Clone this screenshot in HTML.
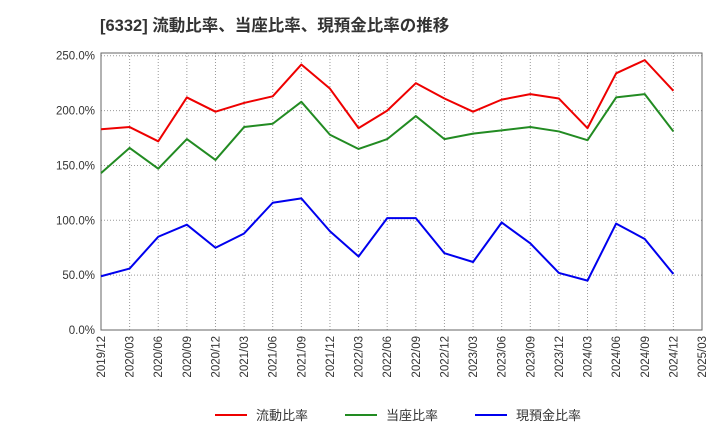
<!DOCTYPE html>
<html><head><meta charset="utf-8"><style>
body{margin:0;background:#fff;}
svg{font-family:"Liberation Sans","Noto Sans CJK JP",sans-serif;}
</style></head><body>
<svg id="chart" width="720" height="440" viewBox="0 0 720 440">
<text x="100" y="31" font-size="16.5" font-weight="bold" fill="#333">[6332]  流動比率、当座比率、現預金比率の推移</text>
<g id="grid"></g><g id="axes"></g><g id="series"></g>
<g>
<line x1="215" y1="415" x2="247" y2="415" stroke="#e00" stroke-width="2"/>
<text x="256" y="420" font-size="13" fill="#333">流動比率</text>
<line x1="345" y1="415" x2="377" y2="415" stroke="#228b22" stroke-width="2"/>
<text x="386" y="420" font-size="13" fill="#333">当座比率</text>
<line x1="475" y1="415" x2="507" y2="415" stroke="#00e" stroke-width="2"/>
<text x="516" y="420" font-size="13" fill="#333">現預金比率</text>
</g>
</svg>
<script>
const categories=["2019/12","2020/03","2020/06","2020/09","2020/12","2021/03","2021/06","2021/09","2021/12","2022/03","2022/06","2022/09","2022/12","2023/03","2023/06","2023/09","2023/12","2024/03","2024/06","2024/09","2024/12","2025/03"];
const currentRatio=[183,185,172,212,199,207,213,242,220,184,200,225,211,199,210,215,211,184,234,246,218];
const quickRatio=[143,166,147,174,155,185,188,208,178,165,174,195,174,179,182,185,181,173,212,215,181];
const cashRatio=[49,56,85,96,75,88,116,120,90,67,102,102,70,62,98,79,52,45,97,83,51];
const yTicks=[0,50,100,150,200,250];
const NS="http://www.w3.org/2000/svg";
const L=101,R=702,T=53,B=330,yMax=252.5;
const xs=i=>L+i*(R-L)/(categories.length-1);
const ys=v=>B-v*(B-T)/yMax;
const grid=document.getElementById('grid'),axes=document.getElementById('axes'),ser=document.getElementById('series');
function mk(tag,attrs,parent){const e=document.createElementNS(NS,tag);for(const k in attrs)e.setAttribute(k,attrs[k]);parent.appendChild(e);return e;}
categories.forEach((c,i)=>{
 const g=mk('line',{x1:xs(i),x2:xs(i),y1:T,y2:B,stroke:'#999','stroke-dasharray':'1,2','stroke-width':1},grid);
 
 
 const t=mk('text',{transform:`translate(${xs(i)+4},${B+6}) rotate(-90)`,'text-anchor':'end','font-size':11.5,fill:'#333'},axes);
 t.textContent=c;
 
 
});
yTicks.forEach(v=>{
 const g=mk('line',{x1:L,x2:R,y1:ys(v),y2:ys(v),stroke:'#999','stroke-dasharray':'1,2','stroke-width':1},grid);
 
 
 const t=mk('text',{x:L-6,y:ys(v)+4,'text-anchor':'end','font-size':11.5,fill:'#333'},axes);
 t.textContent=v.toFixed(1)+'%';
 
 
});
const frame=mk('rect',{x:L,y:T,width:R-L,height:B-T,fill:'none',stroke:'#666','stroke-width':1},axes);


[[currentRatio,'#e00','current-ratio-line'],[quickRatio,'#228b22','quick-ratio-line'],[cashRatio,'#00e','cash-ratio-line']].forEach(([d,c,n])=>{
 const p=mk('polyline',{points:d.map((v,i)=>xs(i)+','+ys(v)).join(' '),fill:'none',stroke:c,'stroke-width':2,'stroke-linejoin':'round'},ser);
 
 
});
</script>
</body></html>
